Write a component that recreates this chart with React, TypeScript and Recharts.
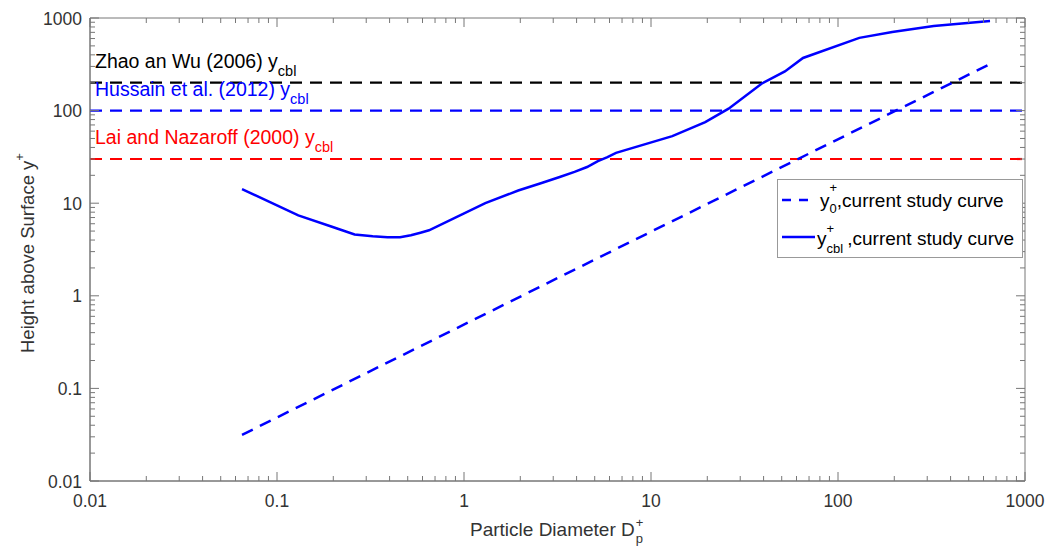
import React from "react";
import {
  LineChart,
  Line,
  XAxis,
  YAxis,
  ReferenceLine,
  ReferenceArea,
} from "recharts";

// current study y+_cbl curve
const cblX = [0.065, 0.13, 0.195, 0.26, 0.325, 0.39, 0.455, 0.52, 0.585, 0.65, 1.3, 1.95, 2.6, 3.25, 3.9, 4.55, 5.2, 5.85, 6.5, 13, 19.5, 26, 39, 52, 65, 130, 195, 325, 650];
const cblY = [14.2, 7.4, 5.6, 4.6, 4.4, 4.3, 4.3, 4.5, 4.8, 5.1, 10.0, 13.7, 16.5, 19.2, 21.8, 24.6, 28.5, 31.5, 35, 53, 75, 105, 195, 265, 370, 610, 705, 820, 930];

// current study y+_0 curve
const y0X = [0.065, 6.5, 650];
const y0Y = [0.0315, 3.2, 318];

// literature y_cbl levels
const refLevels = [200, 100, 30];
const refColors = ["#000000", "#0000ff", "#ff0000"];
const refNames = ["Zhao an Wu (2006) y", "Hussain et al. (2012) y", "Lai and Nazaroff (2000) y"];

const xMajor = [0.01, 0.1, 1, 10, 100, 1000];
const yMajor = [0.01, 0.1, 1, 10, 100, 1000];
const xLabels = ["0.01", "0.1", "1", "10", "100", "1000"];
const yLabels = ["0.01", "0.1", "1", "10", "100", "1000"];

const cblData = cblX.map((x, i) => ({ x, y: cblY[i] }));
const y0Data = y0X.map((x, i) => ({ x, y: y0Y[i] }));

const withMinor = (majors: number[]) => {
  const out: number[] = [];
  majors.forEach((d, i) => {
    out.push(d);
    if (i < majors.length - 1) for (let m = 2; m <= 9; m++) out.push(+(d * m).toPrecision(6));
  });
  return out;
};
const xTicks = withMinor(xMajor);
const yTicks = withMinor(yMajor);

const W = 1061;
const H = 549;
const TOP = 18;
const BOTTOM = 481;
const LEFT = 90;
const RIGHT = 1025;
const FONT = "'Liberation Sans', Arial, sans-serif";
const AXIS = "#777";

const isMajor = (v: number) => Math.abs(Math.log10(v) - Math.round(Math.log10(v))) < 1e-6;

const XTick = (props: any) => {
  const { x, payload } = props;
  const v = payload.value;
  const major = isMajor(v);
  const len = major ? 9 : 5;
  const idx = xMajor.findIndex((m) => Math.abs(m - v) < 1e-9);
  return (
    <g>
      <line x1={x} x2={x} y1={BOTTOM} y2={BOTTOM - len} stroke={AXIS} />
      <line x1={x} x2={x} y1={TOP} y2={TOP + len} stroke={AXIS} />
      {major && idx >= 0 && (
        <text x={x} y={507} textAnchor="middle" fontSize={17.5} fill="#333" fontFamily={FONT}>
          {xLabels[idx]}
        </text>
      )}
    </g>
  );
};

const YTick = (props: any) => {
  const { y, payload } = props;
  const v = payload.value;
  const major = isMajor(v);
  const len = major ? 9 : 5;
  const idx = yMajor.findIndex((m) => Math.abs(m - v) < 1e-9);
  return (
    <g>
      <line x1={LEFT} x2={LEFT + len} y1={y} y2={y} stroke={AXIS} />
      <line x1={RIGHT} x2={RIGHT - len} y1={y} y2={y} stroke={AXIS} />
      {major && idx >= 0 && (
        <text x={82} y={y + 6.5} textAnchor="end" fontSize={17.5} fill="#333" fontFamily={FONT}>
          {yLabels[idx]}
        </text>
      )}
    </g>
  );
};

const refLabel = (i: number) => (props: any) => {
  const vy = props.viewBox ? props.viewBox.y : 0;
  return (
    <text x={95} y={vy - 15} fill={refColors[i]} fontSize={19.5} fontFamily={FONT}>
      {refNames[i]}
      <tspan dy={8} fontSize={14.5}>cbl</tspan>
    </text>
  );
};

const LegendBox = () => (
  <svg width={244} height={77} style={{ position: "absolute", left: 778, top: 180, background: "#fff", outline: "1px solid #999" }}>
    <line x1={4} x2={32} y1={20} y2={20} stroke="#0000ff" strokeWidth={2.5} strokeDasharray="9 8" />
    <text x={42} y={27} fontSize={19} fill="#000" fontFamily={FONT}>
      y<tspan dy={-15} fontSize={13}>+</tspan>
      <tspan dx={-7.5} dy={21} fontSize={13}>0</tspan>
      <tspan dy={-6}>,current study curve</tspan>
    </text>
    <line x1={4} x2={37} y1={57} y2={57} stroke="#0000ff" strokeWidth={2.5} />
    <text x={39} y={65} fontSize={19} fill="#000" fontFamily={FONT}>
      y<tspan dy={-12} fontSize={13}>+</tspan>
      <tspan dx={-7.5} dy={20} fontSize={13}>cbl</tspan>
      <tspan dx={4} dy={-8}>,current study curve</tspan>
    </text>
  </svg>
);

export default function App() {
  return (
    <div style={{ position: "absolute", left: 0, top: 0, width: W, height: H, background: "#fff" }}>
      <LineChart width={W} height={H} margin={{ top: TOP, right: W - RIGHT, bottom: 0, left: 0 }}>
        <XAxis
          dataKey="x"
          type="number"
          scale="log"
          domain={[0.01, 1000]}
          allowDataOverflow
          ticks={xTicks}
          interval={0}
          height={H - BOTTOM}
          tickLine={false}
          axisLine={{ stroke: AXIS }}
          tick={XTick}
          label={() => (
            <text x={470} y={536} fontSize={19} fill="#333" fontFamily={FONT}>
              Particle Diameter D<tspan dx={1} dy={-9} fontSize={13}>+</tspan>
              <tspan dx={-7.5} dy={16} fontSize={13}>p</tspan>
            </text>
          )}
        />
        <YAxis
          type="number"
          scale="log"
          domain={[0.01, 1000]}
          allowDataOverflow
          ticks={yTicks}
          interval={0}
          width={LEFT}
          tickLine={false}
          axisLine={{ stroke: AXIS }}
          tick={YTick}
          label={() => (
            <text x={34} y={353} transform="rotate(-90 34 353)" fontSize={18.5} fill="#333" fontFamily={FONT}>
              Height above Surface y<tspan dy={-10} fontSize={13}>+</tspan>
            </text>
          )}
        />
        <ReferenceArea x1={0.01} x2={1000} y1={0.01} y2={1000} fill="none" stroke={AXIS} ifOverflow="visible" />
        {refLevels.map((lv, i) => (
          <ReferenceLine
            key={lv}
            y={lv}
            stroke={refColors[i]}
            strokeWidth={2.2}
            strokeDasharray="12 8"
            label={refLabel(i)}
          />
        ))}
        <Line
          data={y0Data}
          dataKey="y"
          type="linear"
          stroke="#0000ff"
          strokeWidth={2.5}
          strokeDasharray="12 8"
          dot={false}
          isAnimationActive={false}
        />
        <Line
          data={cblData}
          dataKey="y"
          type="linear"
          stroke="#0000ff"
          strokeWidth={2.5}
          dot={false}
          isAnimationActive={false}
        />
      </LineChart>
      <LegendBox />
    </div>
  );
}
